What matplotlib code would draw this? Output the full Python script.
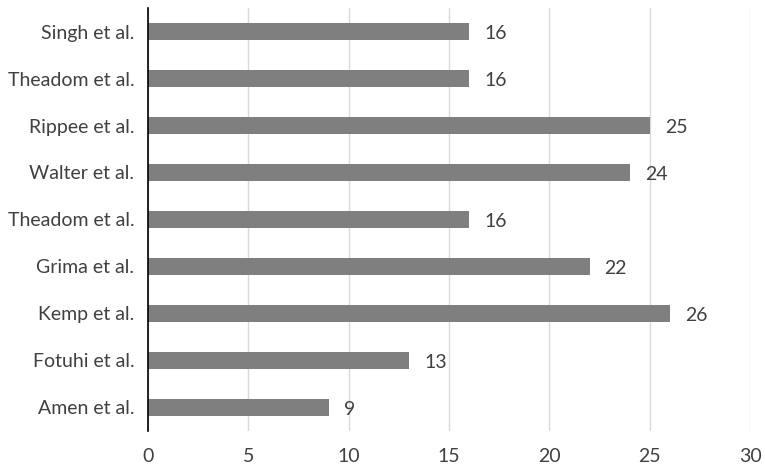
import numpy as np
import matplotlib
matplotlib.use('Agg')
from matplotlib import pyplot as plt

# data, listed bottom to top
studies = ['Amen et al.', 'Fotuhi et al.', 'Kemp et al.', 'Grima et al.',
           'Theadom et al.', 'Walter et al.', 'Rippee et al.',
           'Theadom et al.', 'Singh et al.']
counts = [9, 13, 26, 22, 16, 24, 25, 16, 16]
x_ticks = [0, 5, 10, 15, 20, 25, 30]

plt.rcParams['font.family'] = ['Lato', 'DejaVu Sans']

fig = plt.figure(figsize=(7.65, 4.73), dpi=100)
ax = fig.add_axes([0.1935, 0.089, 0.787, 0.894])

pos = np.arange(len(studies))
ax.barh(pos, counts, height=0.36, color='#7f7f7f', zorder=3)

for p, c in zip(pos, counts):
    ax.text(c + 0.75, p - 0.05, str(c), va='center', ha='left',
            fontsize=14, color='#404040')

ax.set_xlim(0, 30)
ax.set_ylim(-0.5, len(studies) - 0.5)
ax.set_xticks(x_ticks)
ax.set_yticks(pos)
ax.set_yticklabels(studies)
ax.tick_params(axis='both', length=0, labelsize=14, labelcolor='#404040')
ax.tick_params(axis='x', pad=12)
ax.tick_params(axis='y', pad=10)

ax.grid(axis='x', color='#d9d9d9', linewidth=1, zorder=0)
for side in ['top', 'right', 'bottom']:
    ax.spines[side].set_visible(False)
ax.spines['left'].set_color('black')
ax.spines['left'].set_linewidth(1.2)
ax.spines['left'].set_zorder(4)

fig.savefig('out.png', dpi=100)
